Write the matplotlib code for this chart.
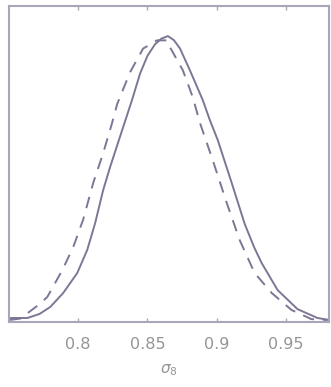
import matplotlib
matplotlib.use('Agg')
import matplotlib.pyplot as plt

# sigma_8 posterior, solid curve
x_solid = [0.7504, 0.7633, 0.7720, 0.7799, 0.7892, 0.7993, 0.8065, 0.8122, 0.8180,
           0.8230, 0.8324, 0.8388, 0.8446, 0.8500, 0.8554, 0.8600, 0.8647, 0.8690,
           0.8734, 0.8806, 0.8899, 0.8950, 0.9007, 0.9108, 0.9201, 0.9270, 0.9324,
           0.9439, 0.9583, 0.9727, 0.9813]
p_solid = [0.014, 0.014, 0.028, 0.053, 0.102, 0.172, 0.253, 0.347, 0.463,
           0.544, 0.684, 0.779, 0.872, 0.935, 0.975, 0.995, 1.004, 0.990,
           0.961, 0.884, 0.779, 0.709, 0.639, 0.488, 0.345, 0.262, 0.207,
           0.112, 0.045, 0.014, 0.007]

# dashed curve
x_dash = [0.7504, 0.7583, 0.7727, 0.7777, 0.7885, 0.7964, 0.8036, 0.8108, 0.8180,
          0.8245, 0.8281, 0.8374, 0.8468, 0.8568, 0.8640, 0.8662, 0.8755, 0.8827,
          0.8878, 0.8971, 0.9072, 0.9165, 0.9273, 0.9396, 0.9540, 0.9683, 0.9799]
p_dash = [0.007, 0.012, 0.065, 0.088, 0.182, 0.263, 0.360, 0.488, 0.593,
          0.700, 0.765, 0.877, 0.960, 0.989, 0.989, 0.965, 0.884, 0.789,
          0.700, 0.568, 0.418, 0.288, 0.172, 0.102, 0.042, 0.010, 0.007]

xticks = [0.8, 0.85, 0.9, 0.95]
xticklabels = ['0.8', '0.85', '0.9', '0.95']

plt.rcParams['font.family'] = ['DejaVu Sans']

linecol = '#7f7595'
framecol = '#a9a5ba'
textcol = '#959595'

fig = plt.figure(figsize=(3.31, 3.87), dpi=100)
ax = fig.add_axes([0.027, 0.168, 0.967, 0.816])
ax.plot(x_solid, p_solid, color=linecol, lw=1.4)
ax.plot(x_dash, p_dash, color=linecol, lw=1.4, ls=(0, (6, 4.5)))
ax.set_xlim(0.75, 0.981)
ax.set_ylim(0, 1.109)
ax.set_xticks(xticks)
ax.set_xticklabels(xticklabels)
ax.set_yticks([])
ax.tick_params(axis='x', direction='in', top=True, length=3, width=1,
               color=framecol, labelcolor=textcol, labelsize=11.5, pad=11)
for s in ax.spines.values():
    s.set_color(framecol)
    s.set_linewidth(1.5)
ax.set_xlabel(r'$\sigma_8$', color=textcol, fontsize=11, labelpad=7)
plt.savefig('out.png', dpi=100)
